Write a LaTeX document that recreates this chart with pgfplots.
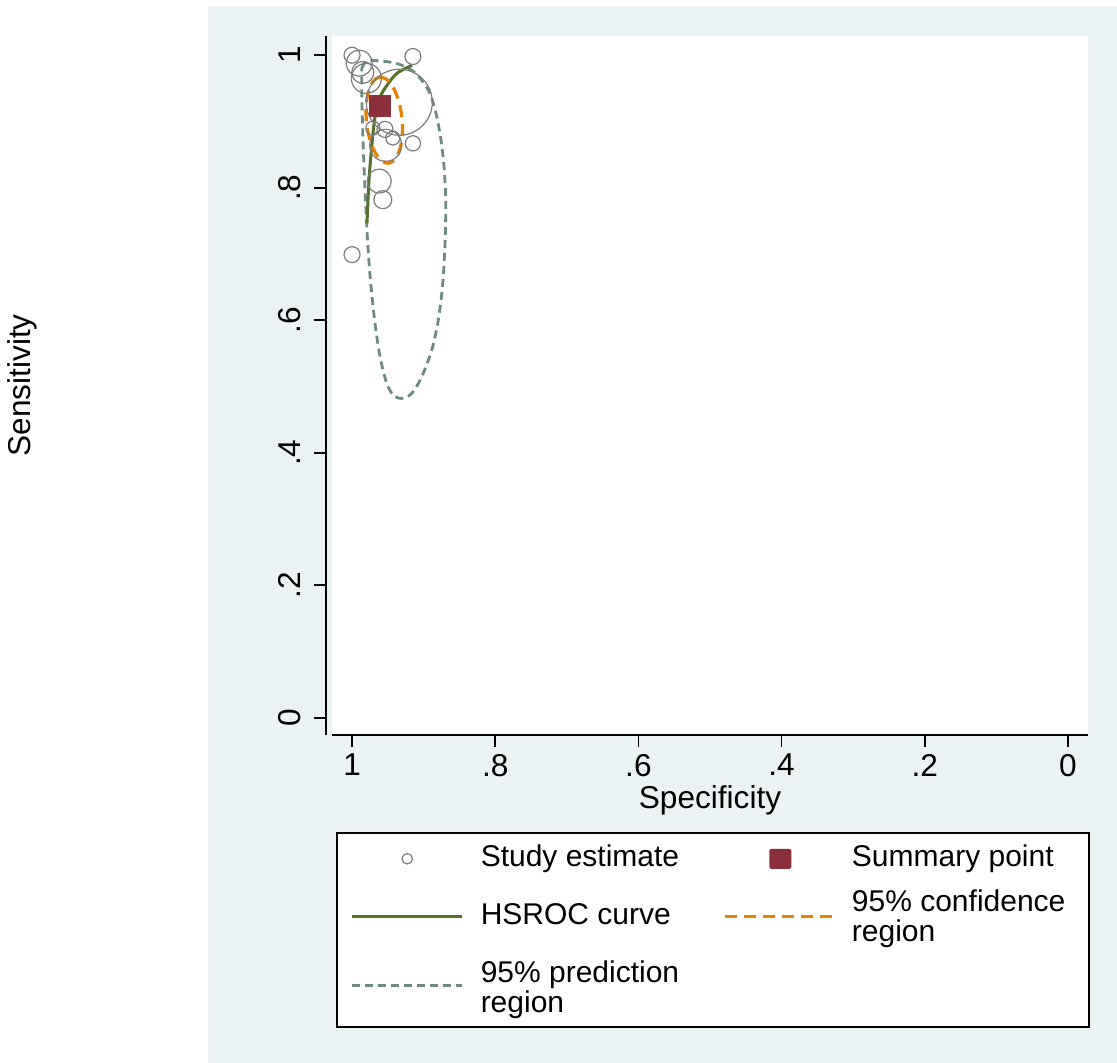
\documentclass[border=0pt]{standalone}
\usepackage{pgfplots}
\usepackage{pgfplotstable}
\pgfplotsset{compat=1.18}
\usepackage{fontspec}
\setmainfont{Liberation Sans}
\definecolor{bg}{RGB}{234,242,243}
\definecolor{circ}{RGB}{125,125,125}
\definecolor{summ}{RGB}{139,48,58}
\definecolor{hsroc}{RGB}{85,112,45}
\definecolor{conf}{RGB}{232,128,0}
\definecolor{pred}{RGB}{110,140,125}

\pgfplotstableread{
x y r
1.000 1.000 4
0.990 0.988 6.5
0.985 0.974 5.5
0.980 0.965 7.5
0.915 0.998 4
0.934 0.929 16.5
0.971 0.890 3.5
0.954 0.888 4
0.943 0.875 3.5
0.953 0.864 8
0.915 0.867 3.8
0.962 0.810 6
0.957 0.782 4.5
1.000 0.699 4
}\studies

\pgfplotstableread{
x y
0.9865 0.9799
0.9795 0.9914
0.9609 0.9914
0.9376 0.9875
0.9166 0.9774
0.9027 0.9623
0.8911 0.9422
0.8827 0.9120
0.8757 0.8718
0.8711 0.8265
0.8691 0.7763
0.8701 0.7159
0.8733 0.6556
0.8795 0.6002
0.8887 0.5549
0.9027 0.5146
0.9166 0.4895
0.9306 0.4820
0.9423 0.4870
0.9515 0.5047
0.9609 0.5448
0.9679 0.5952
0.9739 0.6556
0.9781 0.7159
0.9814 0.7862
0.9842 0.8567
0.9860 0.9220
0.9865 0.9623
0.9865 0.9799
}\predreg

\pgfplotstableread{
x y
0.9600 0.9670
0.9663 0.9648
0.9718 0.9583
0.9762 0.9480
0.9792 0.9345
0.9804 0.9188
0.9800 0.9020
0.9779 0.8852
0.9742 0.8695
0.9691 0.8560
0.9632 0.8457
0.9567 0.8392
0.9500 0.8370
0.9437 0.8392
0.9382 0.8457
0.9338 0.8560
0.9309 0.8695
0.9296 0.8852
0.9300 0.9020
0.9322 0.9188
0.9359 0.9345
0.9409 0.9480
0.9468 0.9583
0.9534 0.9648
0.9600 0.9670
}\confreg

\pgfplotstableread{
x y
0.9791 0.7465
0.9763 0.8114
0.9721 0.8672
0.9679 0.9065
0.9609 0.9366
0.9511 0.9547
0.9372 0.9728
0.9162 0.9849
}\hsroc

\begin{document}
\begin{tikzpicture}
\fill[white] (0pt,0pt) rectangle (558.5pt,-531.5pt);
\fill[bg] (104pt,-3pt) rectangle (558.5pt,-531.5pt);
\begin{axis}[
  name=ax,
  at={(166pt,-18pt)}, anchor=north west,
  scale only axis, width=378pt, height=349.5pt,
  xmin=-0.028, xmax=1.028, ymin=-0.026, ymax=1.029,
  x dir=reverse,
  axis background/.style={fill=white},
  axis x line*=bottom, axis y line*=left,
  axis line style={-, black, line width=0.9pt},
  every outer y axis line/.append style={xshift=-3pt},
  tick align=outside,
  major tick length=6pt,
  tick style={black, line width=0.8pt},
  ytick style={xshift=-3pt},
  xtick={0,0.2,0.4,0.6,0.8,1},
  xticklabels={0,.2,.4,.6,.8,1},
  ytick={0,0.2,0.4,0.6,0.8,1},
  yticklabels={0,.2,.4,.6,.8,1},
  /pgf/number format/assume math mode=true,
  ticklabel style={font=\fontsize{15.8}{18}\selectfont},
  yticklabel style={xshift=-6pt, rotate=90, anchor=south},
  xlabel={Specificity},
  ylabel={Sensitivity},
  label style={font=\fontsize{15.8}{18}\selectfont},
  xlabel style={at={(axis description cs:0.5,-0.093)}, anchor=center},
  ylabel style={at={(axis description cs:-0.41,0.5)}, anchor=center},
]
\addplot[scatter, only marks, mark=o, point meta=explicit,
  scatter/use mapped color={draw=circ, fill=none},
  visualization depends on={\thisrow{r} \as \prad},
  scatter/@pre marker code/.append style={/tikz/mark size=\prad},
  mark options={line width=0.6pt}] table[x=x, y=y, meta=r] {\studies};
\addplot[pred, line width=1.4pt, dash pattern=on 4pt off 2.5pt, smooth, tension=0.5] table {\predreg};
\addplot[only marks, mark=square*, mark size=5.25pt, mark options={fill=summ, draw=summ, rounded corners=0.8pt}] coordinates {(0.9609,0.9231)};
\addplot[hsroc, line width=1.5pt, smooth] table {\hsroc};
\addplot[conf, line width=1.6pt, dash pattern=on 6pt off 3.5pt, smooth] table {\confreg};
\end{axis}
\node[anchor=north west, draw=black, line width=0.75pt, fill=white, inner sep=0pt,
      font=\fontsize{15}{15}\selectfont]
  at ([xshift=2pt, yshift=-48.5pt]ax.south west) {%
  \renewcommand{\arraystretch}{1}%
  \begin{tabular}{@{\hspace{7pt}}c@{\hspace{8.5pt}}p{112pt}@{\hspace{9.5pt}}c@{\hspace{7.5pt}}p{115pt}@{\hspace{3.5pt}}}
  \tikz[baseline=-3.75pt]{\path (0pt,0pt) (55pt,0pt); \draw[circ, line width=0.6pt] (27.5pt,0pt) circle (2.6pt);}
  & \rule[-8pt]{0pt}{24.75pt}Study estimate
  & \tikz[baseline=-3.75pt]{\path (0pt,0pt) (55pt,0pt); \fill[summ, rounded corners=0.8pt] (22pt,-5pt) rectangle (33pt,5pt);}
  & Summary point \\
  \tikz[baseline=-3.75pt]{\draw[hsroc, line width=1.5pt] (0pt,0pt) -- (55pt,0pt);}
  & \rule[-15pt]{0pt}{36pt}HSROC curve
  & \tikz[baseline=-3.75pt]{\draw[conf, line width=1.6pt, dash pattern=on 6pt off 3.5pt] (0pt,0pt) -- (55pt,0pt);}
  & \raisebox{-1.5pt}{\begin{tabular}[c]{@{}l@{}}95\% confidence\\region\end{tabular}} \\
  \tikz[baseline=-3.75pt]{\draw[pred, line width=1.4pt, dash pattern=on 4pt off 2.5pt] (0pt,0pt) -- (55pt,0pt);}
  & \rule[-16.75pt]{0pt}{36.25pt}\raisebox{-2.5pt}{\begin{tabular}[c]{@{}l@{}}95\% prediction\\region\end{tabular}}
  & & \\
  \end{tabular}%
};
\end{tikzpicture}
\end{document}
